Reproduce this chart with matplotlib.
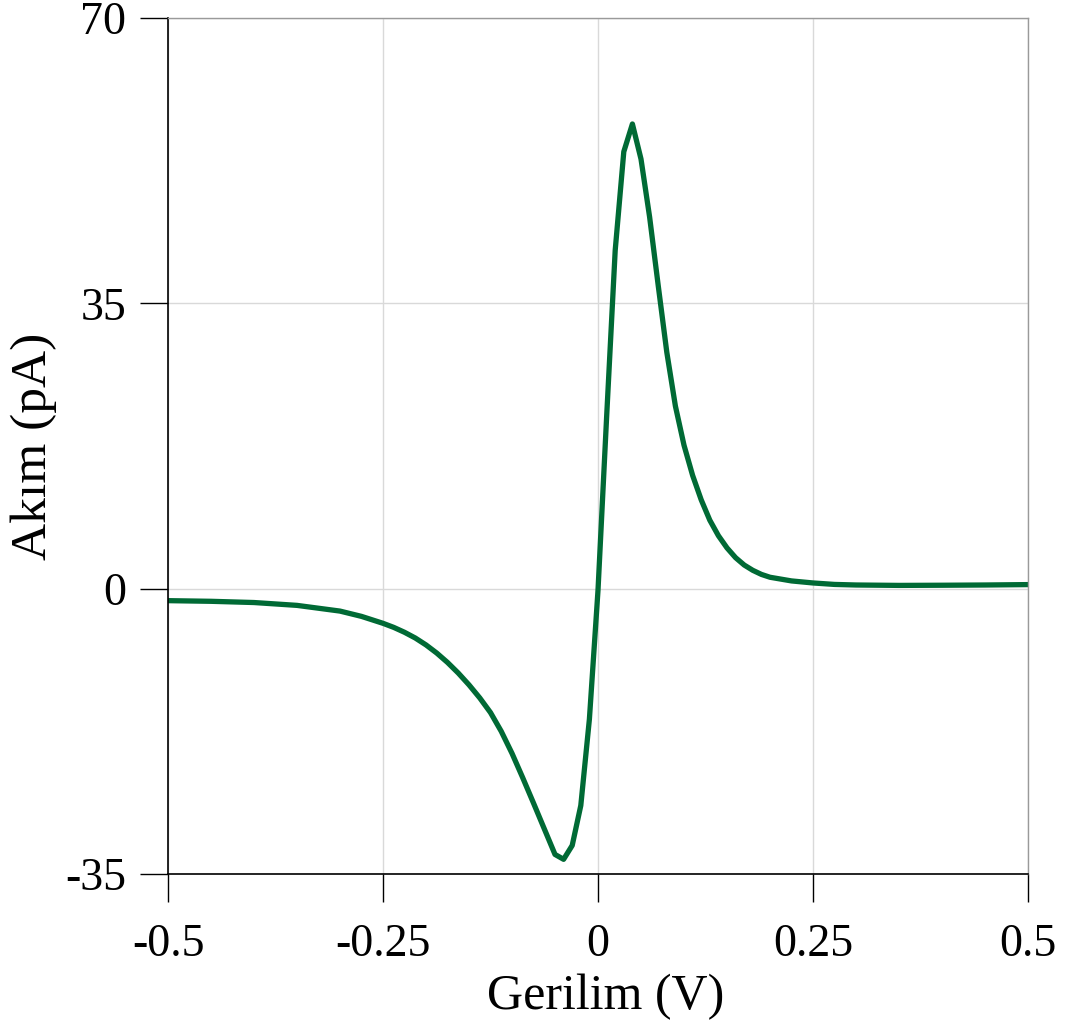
import numpy as np
import matplotlib
matplotlib.use("Agg")
import matplotlib.pyplot as plt

# voltage (V) and current (pA)
gerilim = [-0.5, -0.45, -0.4, -0.35, -0.3, -0.275, -0.25, -0.2375, -0.225, -0.2125,
           -0.2, -0.1875, -0.175, -0.1625, -0.15, -0.1375, -0.125, -0.1125, -0.1, -0.0875,
           -0.075, -0.0625, -0.05, -0.04, -0.03, -0.02, -0.01, 0.0, 0.01, 0.02,
           0.03, 0.04, 0.05, 0.06, 0.07, 0.08, 0.09, 0.10, 0.11, 0.12,
           0.13, 0.14, 0.15, 0.16, 0.17, 0.18, 0.19, 0.20, 0.225, 0.25,
           0.275, 0.30, 0.35, 0.40, 0.45, 0.5]
akim = [-1.47, -1.55, -1.7, -2.05, -2.75, -3.4, -4.25, -4.75, -5.35, -6.05,
        -6.9, -7.9, -9.05, -10.35, -11.8, -13.4, -15.2, -17.5, -20.2, -23.2,
        -26.3, -29.45, -32.6, -33.2, -31.5, -26.6, -16.0, -0.2, 21.0, 41.5,
        53.6, 57.0, 52.7, 45.6, 37.2, 29.0, 22.4, 17.6, 13.9, 10.9,
        8.4, 6.5, 5.0, 3.8, 2.9, 2.25, 1.75, 1.4, 0.95, 0.7,
        0.52, 0.45, 0.4, 0.42, 0.45, 0.5]

x_ticks = [-0.5, -0.25, 0, 0.25, 0.5]
x_labels = ['-0.5', '-0.25', '0', '0.25', '0.5']
y_ticks = [-35, 0, 35, 70]
y_labels = ['-35', '0', '35', '70']

plt.rcParams['font.family'] = ['Liberation Serif', 'DejaVu Serif']

fig = plt.figure(figsize=(10.67, 10.25), dpi=100)
ax = fig.add_axes([168 / 1067, 1 - 874 / 1025, 860 / 1067, 856 / 1025])

ax.plot(gerilim, akim, color='#006a35', linewidth=3.8, solid_joinstyle='round')

ax.set_xlim(-0.5, 0.5)
ax.set_ylim(-35, 70)
ax.set_xticks(x_ticks)
ax.set_xticklabels(x_labels)
ax.set_yticks(y_ticks)
ax.set_yticklabels(y_labels)
ax.grid(True, color='#d9d9d9', linewidth=1)
ax.set_axisbelow(True)

ax.tick_params(axis='both', direction='out', length=20, width=1,
               labelsize=33, color='black')
ax.tick_params(axis='x', pad=16)
ax.tick_params(axis='y', pad=10)

for s in ['left', 'bottom']:
    ax.spines[s].set_color('black')
    ax.spines[s].set_linewidth(1.2)
for s in ['top', 'right']:
    ax.spines[s].set_color('#9a9a9a')
    ax.spines[s].set_linewidth(1)

ax.set_xlabel('Gerilim (V)', fontsize=36, labelpad=5)
ax.xaxis.label.set_x(0.509)
ax.set_ylabel('Akım (pA)', fontsize=37, labelpad=6)

fig.savefig('out.png', dpi=100)
